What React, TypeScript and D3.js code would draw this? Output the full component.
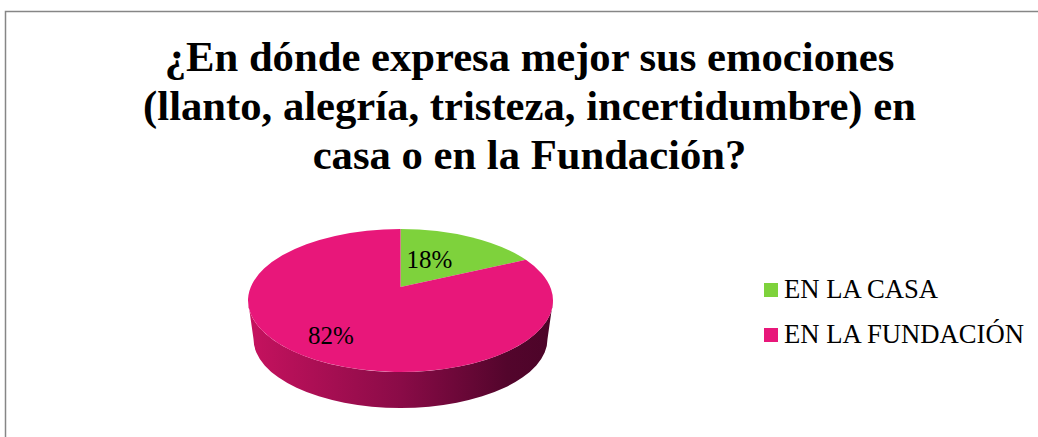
import React from "react";
import * as d3 from "d3";

const categories = ["EN LA CASA", "EN LA FUNDACIÓN"];
const values = [18, 82];
const colors = ["#7ed23c", "#e8177a"];
const titleLines = [
  "¿En dónde expresa mejor sus emociones",
  "(llanto, alegría, tristeza, incertidumbre) en",
  "casa o en la Fundación?",
];

const W = 1038, H = 437;
const cx = 400.5, cy = 300.5, rx = 152.5, ry = 71.5;
const botCy = 339, botRx = 147, botRy = 69;
const persp = 0.189;

// perspective projection of the unit-circle pie onto the top ellipse
function project(theta: number, r = 1): [number, number] {
  const u = r * Math.sin(theta), v = r * Math.cos(theta);
  const d = 1 + persp * v;
  return [cx + rx * (u * Math.sqrt(1 - persp * persp)) / d, cy - ry * (v + persp) / d];
}

export default function App() {
  const arcs = d3.pie<number>().sort(null)(values);
  const apex = project(0, 0);
  const side = `M${cx - rx},${cy} A${rx},${ry} 0 0 0 ${cx + rx},${cy} L${cx + botRx},${botCy} A${botRx},${botRy} 0 0 1 ${cx - botRx},${botCy} Z`;
  const labelPos: [number, number][] = [[429.5, 268], [331, 344]];
  return (
    <svg width={W} height={H} style={{ position: "absolute", left: 0, top: 0, display: "block" }} fontFamily="'Liberation Serif', serif">
      <defs>
        <linearGradient id="sideGrad" x1="0" x2="1" y1="0" y2="0">
          <stop offset="0" stopColor="#c6125f" />
          <stop offset="0.5" stopColor="#8a0b47" />
          <stop offset="0.85" stopColor="#53052c" />
          <stop offset="1" stopColor="#4c0428" />
        </linearGradient>
      </defs>
      <rect width={W} height={H} fill="#fff" />
      <path d={`M5.5,${H} V11.5 H${W}`} fill="none" stroke="#868686" strokeWidth={1.5} />
      <text textAnchor="middle" fontWeight="bold" fontSize={42.67} fill="#000">
        {titleLines.map((t, i) => (
          <tspan key={i} x={529.5} y={71 + i * 49}>{t}</tspan>
        ))}
      </text>
      <path d={side} fill="url(#sideGrad)" />
      {arcs.map((a, i) => {
        const p0 = project(a.startAngle), p1 = project(a.endAngle);
        const large = a.endAngle - a.startAngle > Math.PI ? 1 : 0;
        return (
          <path key={i} fill={colors[i]}
            d={`M${apex[0]},${apex[1]} L${p0[0]},${p0[1]} A${rx},${ry} 0 ${large} 1 ${p1[0]},${p1[1]} Z`} />
        );
      })}
      {arcs.map((a, i) => (
        <text key={i} x={labelPos[i][0]} y={labelPos[i][1]} textAnchor="middle" fontSize={25} fill="#000">
          {values[i]}%
        </text>
      ))}
      {categories.map((c, i) => (
        <g key={c}>
          <rect x={764} y={283 + i * 45} width={14} height={14} fill={colors[i]} />
          <text x={784} y={298 + i * 45} fontSize={26.67} fill="#000">{c}</text>
        </g>
      ))}
    </svg>
  );
}
